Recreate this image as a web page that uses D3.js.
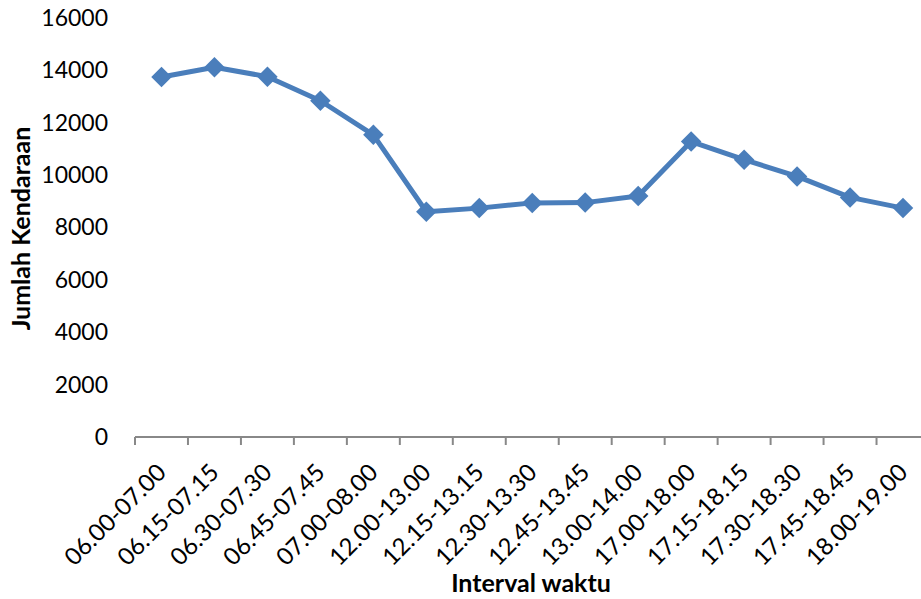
<!DOCTYPE html>
<html>
<head>
<meta charset="utf-8">
<script src="https://cdn.jsdelivr.net/npm/d3@7"></script>
<style>
  html, body { margin: 0; padding: 0; background: #fff; }
  svg { display: block; font-family: Lato, "Open Sans", "Liberation Sans", sans-serif; }
</style>
</head>
<body>
<svg id="chart" width="921" height="599"></svg>
<script>
// Vehicle counts per time interval
const intervals = [
  "06.00-07.00", "06.15-07.15", "06.30-07.30", "06.45-07.45", "07.00-08.00",
  "12.00-13.00", "12.15-13.15", "12.30-13.30", "12.45-13.45", "13.00-14.00",
  "17.00-18.00", "17.15-18.15", "17.30-18.30", "17.45-18.45", "18.00-19.00"
];
const jumlahKendaraan = [
  13750, 14120, 13760, 12840, 11540,
  8600, 8740, 8940, 8950, 9200,
  11280, 10590, 9950, 9150, 8740
];
const yTicks = [0, 2000, 4000, 6000, 8000, 10000, 12000, 14000, 16000];

const svg = d3.select("#chart");
const plotLeft = 135, plotRight = 929.5, plotTop = 18, plotBottom = 437;

const x = d3.scaleBand().domain(intervals).range([plotLeft, plotRight]).paddingInner(0).paddingOuter(0);
const y = d3.scaleLinear().domain([0, 16000]).range([plotBottom, plotTop]);

// Y axis: labels only, no line
const yAxis = svg.append("g")
  .attr("transform", `translate(${plotLeft},0)`)
  .call(d3.axisLeft(y).tickValues(yTicks).tickSize(0).tickPadding(27).tickFormat(d3.format("d")));
yAxis.select(".domain").remove();
yAxis.selectAll("text")
  .attr("font-size", 23)
  .attr("font-family", "Lato, 'Open Sans', sans-serif")
  .attr("fill", "#000");

// X axis line with boundary ticks between categories
const xg = svg.append("g");
xg.append("line")
  .attr("x1", plotLeft).attr("x2", plotRight)
  .attr("y1", plotBottom).attr("y2", plotBottom)
  .attr("stroke", "#888").attr("stroke-width", 2);
const boundaries = intervals.map(d => x(d));
xg.selectAll("line.tick").data(boundaries).enter().append("line")
  .attr("class", "tick")
  .attr("x1", d => d).attr("x2", d => d)
  .attr("y1", plotBottom).attr("y2", plotBottom + 8)
  .attr("stroke", "#888").attr("stroke-width", 2);

// Rotated category labels
xg.selectAll("text").data(intervals).enter().append("text")
  .attr("transform", d => `translate(${x(d) + x.bandwidth() / 2 + 6},${plotBottom + 37}) rotate(-45)`)
  .attr("text-anchor", "end")
  .attr("font-size", 24)
  .attr("fill", "#000")
  .text(d => d);

// Axis titles
svg.append("text")
  .attr("transform", `translate(30,228.5) rotate(-90)`)
  .attr("text-anchor", "middle")
  .attr("font-size", 25)
  .attr("font-weight", "bold")
  .attr("fill", "#000")
  .text("Jumlah Kendaraan");

svg.append("text")
  .attr("x", 531).attr("y", 592)
  .attr("text-anchor", "middle")
  .attr("font-size", 25)
  .attr("font-weight", "bold")
  .attr("fill", "#000")
  .text("Interval waktu");

// Series line and diamond markers
const blue = "#4a7ebb";
const cx = i => x(intervals[i]) + x.bandwidth() / 2;
const line = d3.line().x((d, i) => cx(i)).y(d => y(d));
svg.append("path")
  .datum(jumlahKendaraan)
  .attr("d", line)
  .attr("fill", "none")
  .attr("stroke", blue)
  .attr("stroke-width", 5)
  .attr("stroke-linejoin", "round");

svg.selectAll("path.marker").data(jumlahKendaraan).enter().append("path")
  .attr("class", "marker")
  .attr("transform", (d, i) => `translate(${cx(i)},${y(d)}) rotate(45)`)
  .attr("d", d3.symbol().type(d3.symbolSquare).size(210))
  .attr("fill", blue);
</script>
</body>
</html>
